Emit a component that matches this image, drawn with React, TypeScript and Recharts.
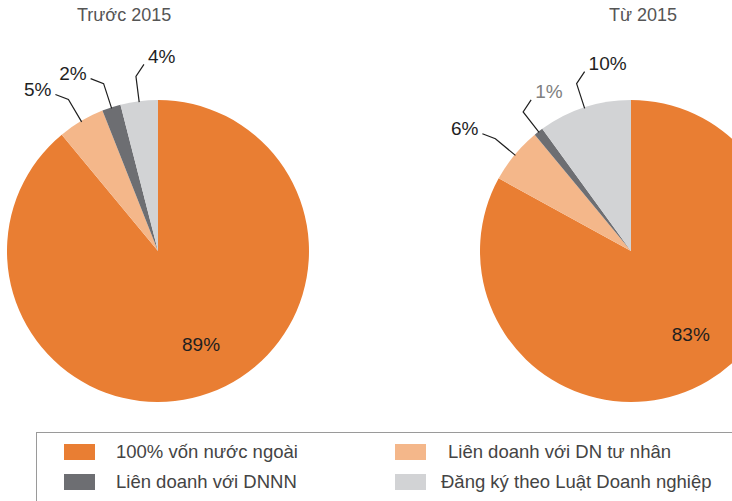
import { PieChart, Pie, Cell } from 'recharts';

const categories = [
  '100% vốn nước ngoài',
  'Liên doanh với DN tư nhân',
  'Liên doanh với DNNN',
  'Đăng ký theo Luật Doanh nghiệp',
];
const before2015 = [89, 5, 2, 4];
const since2015 = [83, 6, 1, 10];
const titles = ['Trước 2015', 'Từ 2015'];

const COLORS = ['#E97E33', '#F4B78A', '#6D6E72', '#D2D3D5'];
const RADIAN = Math.PI / 180;

// which way the short tail of each leader line points
const sidesBefore = ['', 'left', 'left', 'right'];
const sidesSince = ['', 'left', 'right', 'right'];

const toData = (values: number[]) =>
  categories.map((name, i) => ({ name, value: values[i] }));

const makeLabel = (sides: string[]) => (props: any) => {
  const { cx, cy, midAngle, outerRadius, index, value } = props;
  if (index === 0) {
    const a = (midAngle + 5) * RADIAN;
    const r = outerRadius * 0.68;
    return (
      <text
        x={cx + r * Math.cos(-a)}
        y={cy + r * Math.sin(-a)}
        textAnchor="middle"
        dominantBaseline="central"
        fontSize={19}
        fill="#1f1f1f"
      >
        {value}%
      </text>
    );
  }
  const a = -midAngle * RADIAN;
  const sx = cx + (outerRadius - 1) * Math.cos(a);
  const sy = cy + (outerRadius - 1) * Math.sin(a);
  const ex = cx + (outerRadius + 25) * Math.cos(a);
  const ey = cy + (outerRadius + 25) * Math.sin(a);
  const left = sides[index] === 'left';
  const tx = left ? ex - 13 : ex + 8;
  const ty = left ? ey - 5 : ey - 12;
  const grey = value === 1;
  return (
    <g>
      <polyline
        points={`${sx},${sy} ${ex},${ey} ${tx},${ty}`}
        fill="none"
        stroke="#1f1f1f"
        strokeWidth={1.2}
      />
      <text
        x={left ? tx - 4 : tx + 4}
        y={left ? ty - 5 : ty - 8}
        textAnchor={left ? 'end' : 'start'}
        dominantBaseline="central"
        fontSize={19}
        fill={grey ? '#808080' : '#1f1f1f'}
      >
        {value}%
      </text>
    </g>
  );
};

export default function App() {
  const font = '"Liberation Sans", Arial, Helvetica, sans-serif';
  return (
    <div style={{ position: 'absolute', left: 0, top: 0, width: 732, height: 501, overflow: 'hidden', fontFamily: font }}>
      <div style={{ position: 'absolute', left: 77, top: 5, fontSize: 18, color: '#555' }}>{titles[0]}</div>
      <div style={{ position: 'absolute', left: 609, top: 5, fontSize: 18, color: '#555' }}>{titles[1]}</div>
      <PieChart width={732} height={501} margin={{ top: 0, right: 0, bottom: 0, left: 0 }} style={{ fontFamily: font }}>
        <Pie
          data={toData(before2015)}
          dataKey="value"
          cx={158}
          cy={251}
          outerRadius={151}
          startAngle={90}
          endAngle={-270}
          stroke="none"
          labelLine={false}
          label={makeLabel(sidesBefore)}
          isAnimationActive={false}
        >
          {before2015.map((_, i) => (
            <Cell key={`b-${i}`} fill={COLORS[i]} />
          ))}
        </Pie>
        <Pie
          data={toData(since2015)}
          dataKey="value"
          cx={631}
          cy={251}
          outerRadius={151}
          startAngle={90}
          endAngle={-270}
          stroke="none"
          labelLine={false}
          label={makeLabel(sidesSince)}
          isAnimationActive={false}
        >
          {since2015.map((_, i) => (
            <Cell key={`s-${i}`} fill={COLORS[i]} />
          ))}
        </Pie>
      </PieChart>
      {/* legend box */}
      <div
        style={{
          position: 'absolute',
          left: 36,
          top: 432,
          width: 720,
          height: 100,
          border: '1px solid #9a9a9a',
        }}
      />
      {categories.map((name, i) => {
        const col = i === 0 || i === 2 ? 0 : 1;
        const row = i < 2 ? 0 : 1;
        const sqX = col === 0 ? 64 : 395;
        const txX = col === 0 ? 116 : i === 1 ? 448 : 441;
        const top = row === 0 ? 444 : 474;
        return (
          <div key={name}>
            <div style={{ position: 'absolute', left: sqX, top, width: 31, height: 16, background: COLORS[i] }} />
            <div
              style={{
                position: 'absolute',
                left: txX,
                top: top - 4,
                fontSize: 18.5,
                lineHeight: '24px',
                color: '#444',
                whiteSpace: 'nowrap',
              }}
            >
              {name}
            </div>
          </div>
        );
      })}
    </div>
  );
}
